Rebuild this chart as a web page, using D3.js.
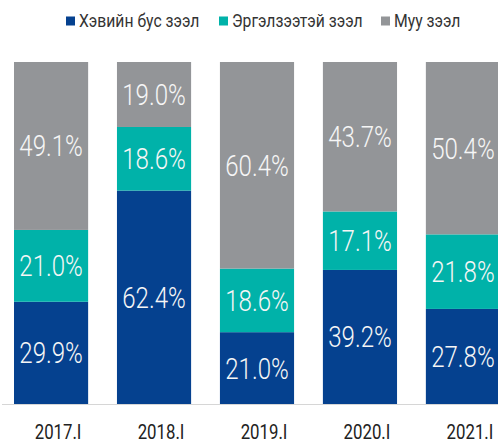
<!DOCTYPE html>
<html>
<head>
<meta charset="utf-8">
<script src="https://cdn.jsdelivr.net/npm/d3@7"></script>
<style>
  html, body { margin: 0; padding: 0; background: #fff; }
  svg { display: block; font-family: Roboto, "Liberation Sans", sans-serif; }
</style>
</head>
<body>
<svg id="chart" width="498" height="445"></svg>
<script>
// Loan quality shares by year (percent of total)
const categories = ["2017.I", "2018.I", "2019.I", "2020.I", "2021.I"];
const seriesNames = ["Хэвийн бус зээл", "Эргэлзээтэй зээл", "Муу зээл"];
const nonPerforming = [29.9, 62.4, 21.0, 39.2, 27.8];
const doubtful = [21.0, 18.6, 18.6, 17.1, 21.8];
const bad = [49.1, 19.0, 60.4, 43.7, 50.4];
const colors = ["#05418f", "#00b2a9", "#939598"];

const rows = categories.map((c, i) => ({
  cat: c, s0: nonPerforming[i], s1: doubtful[i], s2: bad[i]
}));

const svg = d3.select("#chart");

// condensed look: squeeze text horizontally around its anchor
const NARROW = 0.8;

const x = d3.scaleBand().domain(categories).range([14, 500]).paddingInner(0.28).paddingOuter(0);
const y = d3.scaleLinear().domain([0, 100]).range([404, 62]);

const layers = d3.stack().keys(["s0", "s1", "s2"])(rows);

const g = svg.append("g");

layers.forEach((layer, li) => {
  g.append("g").attr("fill", colors[li])
    .selectAll("rect").data(layer).join("rect")
    .attr("x", d => x(d.data.cat))
    .attr("width", x.bandwidth())
    .attr("y", d => y(d[1]))
    .attr("height", d => y(d[0]) - y(d[1]));
});

layers.forEach(layer => {
  g.append("g").selectAll("text").data(layer).join("text")
    .attr("transform", d => `translate(${x(d.data.cat) + x.bandwidth() / 2},${(y(d[0]) + y(d[1])) / 2}) scale(${NARROW + 0.03},1)`)
    .attr("dy", "0.36em")
    .attr("text-anchor", "middle")
    .attr("fill", "#f6f6f6")
    .attr("font-weight", 300)
    .attr("font-size", 29)
    .text(d => (d[1] - d[0]).toFixed(1) + "%");
});

// baseline and category labels
const xAxis = d3.axisBottom(x).tickSize(0).tickPadding(0);
const ax = svg.append("g").attr("transform", "translate(0,404)").call(xAxis);
ax.select(".domain").remove();
ax.append("line").attr("x1", 2).attr("x2", 498).attr("y1", 0.5).attr("y2", 0.5)
  .attr("stroke", "#d6d6d6").attr("stroke-width", 1.2);
ax.selectAll(".tick text")
  .attr("font-family", "Roboto, sans-serif")
  .attr("font-size", 21)
  .attr("fill", "#222")
  .attr("y", 0)
  .attr("transform", `translate(7,27.5) scale(${NARROW},1)`)
  .attr("dy", "0.35em");

// legend
const legendX = [66, 219, 381];
const lgd = svg.append("g");
seriesNames.forEach((name, i) => {
  const item = lgd.append("g").attr("transform", `translate(${legendX[i]},21)`);
  item.append("rect").attr("x", 0).attr("y", -4.5).attr("width", 9).attr("height", 9).attr("fill", colors[i]);
  item.append("text").attr("transform", `translate(13,0) scale(${NARROW + 0.05},1)`).attr("dy", "0.35em")
    .attr("font-size", 18.5).attr("fill", "#333").text(name);
});
</script>
</body>
</html>
